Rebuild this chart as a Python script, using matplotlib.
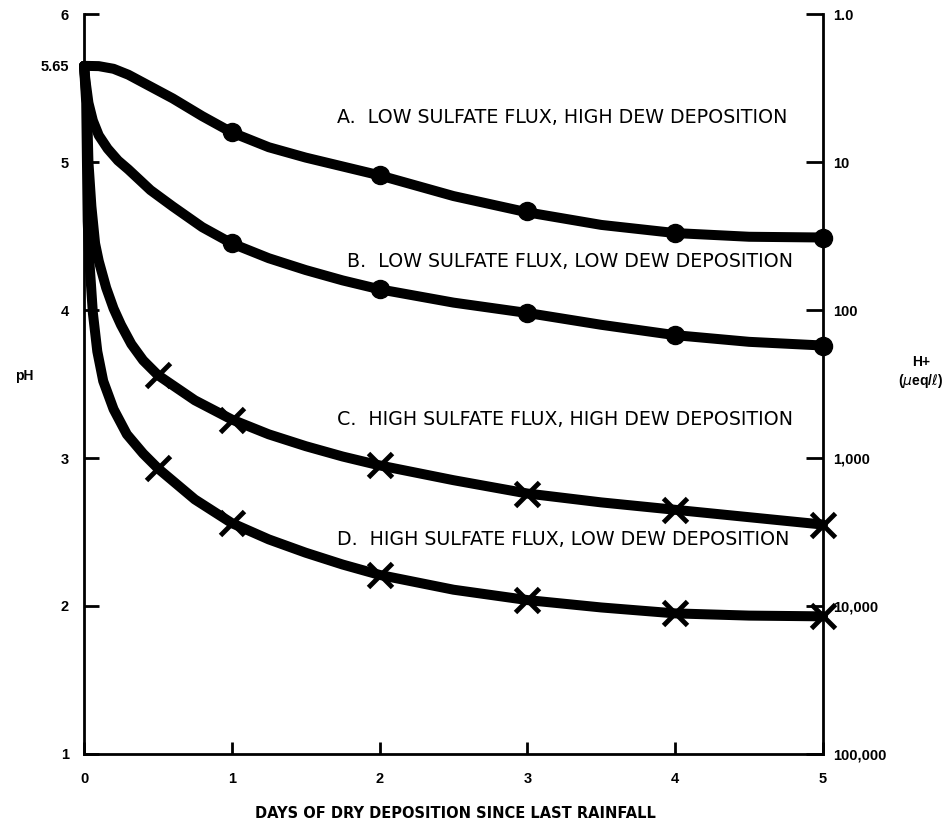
import matplotlib.pyplot as plt

plt.rcParams['font.family'] = ['Liberation Sans', 'DejaVu Sans']

# curve points (days, pH)
days_a = [0, 0.1, 0.2, 0.3, 0.45, 0.6, 0.8, 1, 1.25, 1.5, 1.75, 2, 2.5, 3, 3.5, 4, 4.5, 5]
ph_a = [5.65, 5.648, 5.63, 5.59, 5.51, 5.43, 5.31, 5.2, 5.1, 5.03, 4.97, 4.91, 4.77, 4.66, 4.575, 4.52, 4.495, 4.49]

days_b = [0, 0.01, 0.03, 0.06, 0.1, 0.16, 0.23, 0.3, 0.45, 0.6, 0.8, 1, 1.25, 1.5, 1.75, 2, 2.5, 3, 3.5,
          4, 4.5, 5]
ph_b = [5.65, 5.55, 5.40, 5.28, 5.18, 5.09, 5.01, 4.95, 4.81, 4.70, 4.56, 4.45, 4.35, 4.27, 4.20, 4.14,
        4.05, 3.98, 3.90, 3.83, 3.785, 3.76]

days_c = [0, 0.02, 0.03, 0.05, 0.075, 0.1, 0.15, 0.2, 0.25, 0.32, 0.4, 0.5, 0.75, 1, 1.25, 1.5, 1.75, 2,
          2.5, 3, 3.5, 4, 4.5, 5]
ph_c = [5.65, 5.4, 5.0, 4.7, 4.45, 4.33, 4.15, 4.01, 3.90, 3.77, 3.66, 3.56, 3.39, 3.26, 3.16, 3.08, 3.01,
        2.95, 2.85, 2.76, 2.70, 2.65, 2.60, 2.55]

days_d = [0, 0.015, 0.02, 0.025, 0.035, 0.06, 0.09, 0.13, 0.2, 0.29, 0.4, 0.5, 0.75, 1, 1.25, 1.5,
          1.75, 2, 2.5, 3, 3.5, 4, 4.5, 5]
ph_d = [5.65, 5.4, 5.0, 4.6, 4.35, 3.98, 3.72, 3.52, 3.33, 3.16, 3.03, 2.93, 2.72, 2.56, 2.45, 2.36,
        2.28, 2.21, 2.11, 2.04, 1.99, 1.95, 1.935, 1.93]

# marked points
mark_days_ab = [1, 2, 3, 4, 5]
mark_a = [5.2, 4.91, 4.67, 4.52, 4.49]
mark_b = [4.45, 4.14, 3.98, 3.83, 3.76]
mark_days_cd = [0.5, 1, 2, 3, 4, 5]
mark_c = [3.56, 3.26, 2.95, 2.76, 2.65, 2.55]
mark_d = [2.93, 2.56, 2.21, 2.04, 1.95, 1.93]

labels = ['A.  LOW SULFATE FLUX, HIGH DEW DEPOSITION',
          'B.  LOW SULFATE FLUX, LOW DEW DEPOSITION',
          'C.  HIGH SULFATE FLUX, HIGH DEW DEPOSITION',
          'D.  HIGH SULFATE FLUX, LOW DEW DEPOSITION']
label_ph = [5.30, 4.33, 3.26, 2.45]
label_day = [1.71, 1.78, 1.71, 1.71]

ph_ticks = [1, 2, 3, 4, 5, 5.65, 6]
ph_ticklabels = ['1', '2', '3', '4', '5', '5.65', '6']
h_ticks = [1, 2, 3, 4, 5, 6]
h_ticklabels = ['100,000', '10,000', '1,000', '100', '10', '1.0']
day_ticks = [0, 1, 2, 3, 4, 5]

fig = plt.figure(figsize=(9.46, 8.26), dpi=100)
ax = fig.add_axes([0.0888, 0.0872, 0.7812, 0.8958])
ax.set_xlim(0, 5)
ax.set_ylim(1, 6)

lw = 7.2
for d, p in [(days_a, ph_a), (days_b, ph_b), (days_c, ph_c), (days_d, ph_d)]:
    ax.plot(d, p, color='black', lw=lw, solid_capstyle='round', solid_joinstyle='round', clip_on=False)

ax.plot(mark_days_ab, mark_a, 'o', color='black', ms=13, clip_on=False)
ax.plot(mark_days_ab, mark_b, 'o', color='black', ms=13, clip_on=False)
ax.plot(mark_days_cd, mark_c, 'x', color='black', ms=17, mew=3.5, clip_on=False)
ax.plot(mark_days_cd, mark_d, 'x', color='black', ms=17, mew=3.5, clip_on=False)

for lx, ly, t in zip(label_day, label_ph, labels):
    ax.text(lx, ly, t, fontsize=13.7, va='center', ha='left', family='DejaVu Sans')

ax.spines['top'].set_visible(False)
ax.spines['right'].set_visible(False)
for s in ['left', 'bottom']:
    ax.spines[s].set_linewidth(2)

ax.set_yticks(ph_ticks)
ax.set_yticklabels(ph_ticklabels, fontweight='bold', fontsize=10.5)
ax.set_xticks(day_ticks)
ax.set_xticklabels([str(d) for d in day_ticks], fontweight='bold', fontsize=10.5)
ax.tick_params(axis='y', direction='in', length=11, width=2, pad=11)
ax.tick_params(axis='x', direction='in', length=9, width=2, pad=13)

ax2 = ax.twinx()
ax2.set_ylim(1, 6)
for s in ['top', 'left', 'bottom']:
    ax2.spines[s].set_visible(False)
ax2.spines['right'].set_linewidth(2)
ax2.set_yticks(h_ticks)
ax2.set_yticklabels(h_ticklabels, fontweight='bold', fontsize=10.5)
ax2.tick_params(axis='y', direction='in', length=12, width=2, pad=7)

fig.text(455 / 946, 1 - 813 / 826, 'DAYS OF DRY DEPOSITION SINCE LAST RAINFALL',
         fontweight='bold', fontsize=10.5, ha='center', va='center', family='DejaVu Sans')
fig.text(15 / 946, 1 - 376 / 826, 'pH', fontweight='bold', fontsize=10, ha='left', va='center')
fig.text(921 / 946, 1 - 362 / 826, 'H+', fontweight='bold', fontsize=10, ha='center', va='center')
fig.text(921 / 946, 1 - 381 / 826, '($\\mu$eq/$\\ell$)', fontweight='bold', fontsize=10, ha='center', va='center')

fig.savefig('out.png', dpi=100)
